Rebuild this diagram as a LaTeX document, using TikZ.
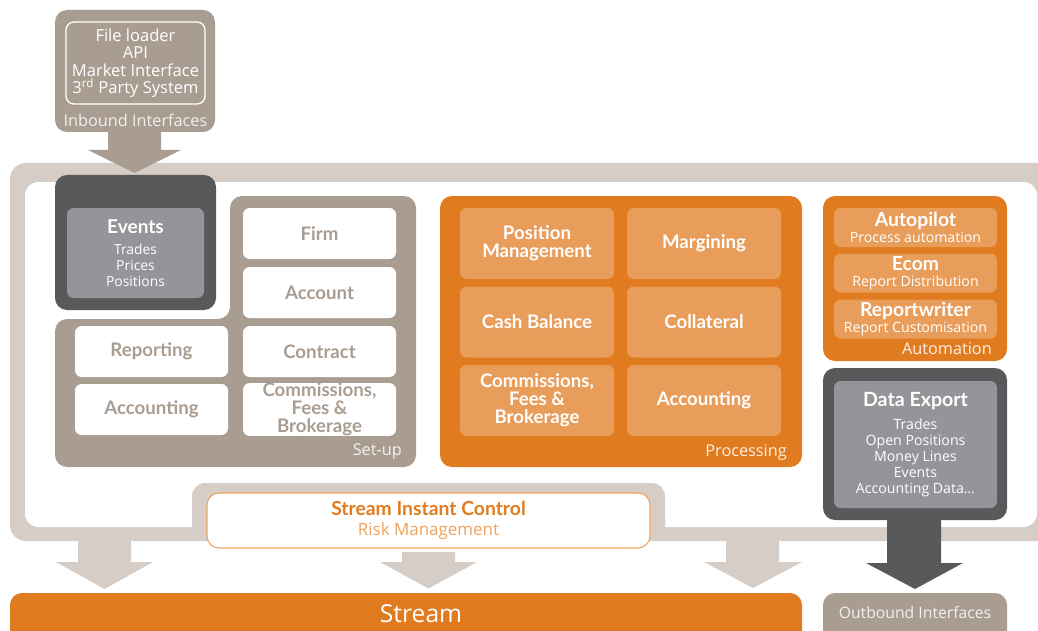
\documentclass[tikz,border=0pt]{standalone}
\usepackage{fontspec}
\setmainfont{Open Sans}
\newfontfamily\heavyfont{Lato}
\usepackage{tikz}
\usepackage{xcolor}
\definecolor{band}{RGB}{213,205,198}
\definecolor{taupe}{RGB}{169,157,146}
\definecolor{charcoal}{RGB}{88,89,91}
\definecolor{slate}{RGB}{147,149,152}
\definecolor{pumpkin}{RGB}{224,124,31}
\definecolor{apricot}{RGB}{233,157,90}
\definecolor{peach}{RGB}{240,163,94}
\tikzset{
  boldtext/.style={font=\heavyfont\bfseries\fontsize{14}{13.4}\selectfont},
  setupbox/.style={boldtext, fill=white, text=taupe, rounded corners=5pt, inner sep=0pt,
    minimum width=114.75pt, minimum height=38.25pt, align=center},
  procbox/.style={setupbox, fill=apricot, text=white, minimum width=115.5pt, minimum height=53.25pt},
  autobox/.style={fill=apricot, text=white, rounded corners=5pt, inner sep=0pt, align=center,
    minimum width=122.25pt, minimum height=29.25pt, font=\fontsize{10.6}{12}\selectfont},
  graybox/.style={fill=slate, text=white, rounded corners=5pt, inner sep=0pt, align=center},
  tag/.style={inner sep=0pt, font=\fontsize{12.2}{14}\selectfont}
}

\begin{document}
\begin{tikzpicture}[x=0.75pt,y=-0.75pt]
    \useasboundingbox (0,0) rectangle (1038,631);
    % frame
    \fill[band,rounded corners=12pt] (10,163) rectangle (1060,541);
    \fill[white,rounded corners=10pt] (25,182) rectangle (1037,527);
    \fill[band,rounded corners=10pt] (192,483) rectangle (665,541);
    % inbound
    \fill[taupe,rounded corners=9pt] (55,10) rectangle (215,132);
    \node[draw=white, line width=1pt, rounded corners=6pt, minimum width=104.25pt, minimum height=61.5pt,
        align=center, text=white, font=\fontsize{12.4}{13.1}\selectfont] (inbound) at (135.5,63)
        {File loader\\API\\Market Interface\\3\textsuperscript{rd} Party System};
    \node[tag, text=white!85!taupe] (inboundlbl) at (135.5,120) {Inbound Interfaces};
    \fill[taupe] (108,132) -- (161,132) -- (161,150) -- (181,150) -- (134.5,173) -- (88,150) -- (108,150) -- cycle;
    % events
    \fill[charcoal,rounded corners=9pt] (55,175) rectangle (216,310);
    \node[graybox, minimum width=102.75pt, minimum height=67.5pt, font=\fontsize{10.4}{12}\selectfont] (events) at (135.5,253)
        {{\heavyfont\bfseries\fontsize{14.3}{12}\selectfont Events}\\[4pt]Trades\\Prices\\Positions};
    % set-up
    \fill[taupe,rounded corners=9pt] (230,196) -- (416,196) -- (416,467) -- (55,467) -- (55,319) -- (230,319) -- cycle;
    \node[setupbox] (firm) at (319.5,233.5) {Firm};
    \node[setupbox] (account) at (319.5,292.5) {Account};
    \node[setupbox] (reporting) at (151.5,351.5) {Reporting};
    \node[setupbox] (contract) at (319.5,351.5) {Contract};
    \node[setupbox] (setupacc) at (151.5,409.5) {Accounting};
    \node[setupbox] (setupcomm) at (319.5,409.5) {Commissions,\\Fees \&\\Brokerage};
    \node[tag, anchor=east, text=white!85!taupe] (setuplbl) at (402,452) {Set-up};
    % processing
    \fill[pumpkin,rounded corners=9pt] (440,196) rectangle (802,467);
    \node[procbox] (posmgmt) at (537,243.5) {Position\\Management};
    \node[procbox] (margining) at (704,243.5) {Margining};
    \node[procbox] (cashbal) at (537,322) {Cash Balance};
    \node[procbox] (collateral) at (704,322) {Collateral};
    \node[procbox] (proccomm) at (537,400.5) {Commissions,\\Fees \&\\Brokerage};
    \node[procbox] (procacc) at (704,400.5) {Accounting};
    \node[tag, anchor=east, text=white!88!pumpkin] (proclbl) at (787,452) {Processing};
    % automation
    \fill[pumpkin,rounded corners=9pt] (823,196) rectangle (1007,361);
    \node[autobox] (autopilot) at (915.5,227.5) {{\heavyfont\bfseries\fontsize{14.5}{12}\selectfont Autopilot}\\Process automation};
    \node[autobox] (ecom) at (915.5,273) {{\heavyfont\bfseries\fontsize{14.5}{12}\selectfont Ecom}\\Report Distribution};
    \node[autobox] (reportwriter) at (915.5,319) {{\heavyfont\bfseries\fontsize{14.5}{12}\selectfont Reportwriter}\\Report Customisation};
    \node[tag, anchor=east, text=white!88!pumpkin] (autolbl) at (992,349) {Automation};
    % data export
    \fill[charcoal] (887,515) -- (941,515) -- (941,563) -- (963,563) -- (915,589) -- (866,563) -- (887,563) -- cycle;
    \fill[charcoal,rounded corners=9pt] (823,368) rectangle (1007,520);
    \node[graybox, minimum width=122.25pt, minimum height=95.25pt, font=\fontsize{10.6}{12}\selectfont] (export) at (915.5,444.5)
        {{\heavyfont\bfseries\fontsize{14.7}{12}\selectfont Data Export}\\[5pt]Trades\\Open Positions\\Money Lines\\Events\\Accounting Data\dots};
    % stream instant control
    \node[draw=peach, line width=0.8pt, fill=white, rounded corners=9pt, minimum width=332.25pt, minimum height=41.25pt,
        align=center, text=peach, font=\fontsize{12.7}{15}\selectfont] (sic) at (428.5,520.5)
        {{\heavyfont\bfseries\fontsize{14.5}{15}\selectfont\color{pumpkin}Stream Instant Control}\\Risk Management};
    % down arrows
    \fill[band] (78,541) -- (131,541) -- (131,562) -- (153,562) -- (104.5,589) -- (56,562) -- (78,562) -- cycle;
    \fill[band] (402,552) -- (455,552) -- (455,562) -- (477,562) -- (428.5,588.5) -- (380,562) -- (402,562) -- cycle;
    \fill[band] (726,541) -- (779,541) -- (779,562) -- (802,562) -- (753,588) -- (704,562) -- (726,562) -- cycle;
    % stream and outbound
    \fill[pumpkin,rounded corners=9pt] (10,593) rectangle (802,650);
    \node[inner sep=0pt, text=white, font=\fontsize{18.5}{20}\selectfont] (stream) at (421,614) {Stream};
    \fill[taupe,rounded corners=9pt] (823,593) rectangle (1007,650);
    \node[inner sep=0pt, text=white!85!taupe, font=\fontsize{11.8}{14}\selectfont] (outbound) at (915,613) {Outbound Interfaces};
\end{tikzpicture}
\end{document}
